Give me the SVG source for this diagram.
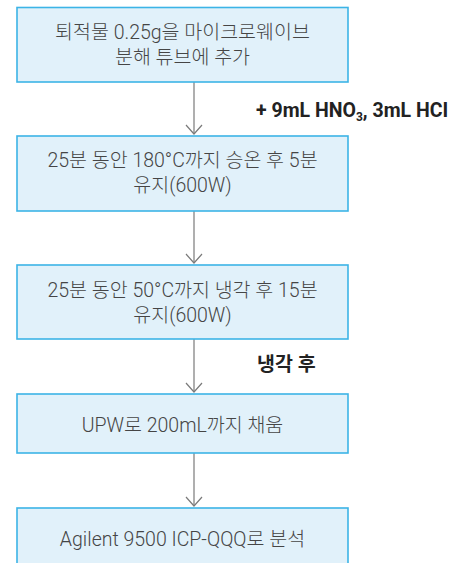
<svg xmlns="http://www.w3.org/2000/svg" width="462" height="563" viewBox="0 0 462 563">
<style>
.box{fill:#e1f1fa;stroke:#3cb4e6;stroke-width:1.6}
.t{font-family:Roboto,"Noto Sans CJK KR",sans-serif;font-size:19.5px;font-weight:300;fill:#454545;text-anchor:middle}
.lbl{font-family:Roboto,"Noto Sans CJK KR",sans-serif;font-size:19.5px;font-weight:700;fill:#222}
.c line{stroke:#7a7a7a;stroke-width:1.2}
.c path{fill:none;stroke:#7a7a7a;stroke-width:1.2}
</style>
<rect width="462" height="563" fill="#fff"/>
<g class="c" id="connectors">
<line x1="194" y1="82" x2="194" y2="134"/><path d="M186 125 L194 134 L202 125"/>
<line x1="194" y1="211" x2="194" y2="263"/><path d="M186 254 L194 263 L202 254"/>
<line x1="194" y1="339" x2="194" y2="392"/><path d="M186 383 L194 392 L202 383"/>
<line x1="194" y1="453" x2="194" y2="506"/><path d="M186 497 L194 506 L202 497"/>
<text class="lbl" x="256" y="117">+ 9mL HNO<tspan font-size="12" dy="4">3</tspan><tspan dy="-4">, 3mL HCI</tspan></text>
<text class="lbl" x="257" y="371">냉각 후</text>
</g>
<g id="n1"><rect class="box" x="17" y="7.5" width="331" height="74.5"/>
<text class="t" x="182.5" y="38.5">퇴적물 0.25g을 마이크로웨이브</text>
<text class="t" x="182.5" y="63.5">분해 튜브에 추가</text></g>
<g id="n2"><rect class="box" x="17" y="136" width="331" height="75"/>
<text class="t" x="182.5" y="167">25분 동안 180°C까지 승온 후 5분</text>
<text class="t" x="182.5" y="192">유지(600W)</text></g>
<g id="n3"><rect class="box" x="17" y="265" width="331" height="74"/>
<text class="t" x="182.5" y="297">25분 동안 50°C까지 냉각 후 15분</text>
<text class="t" x="182.5" y="322">유지(600W)</text></g>
<g id="n4"><rect class="box" x="17" y="394" width="331" height="59"/>
<text class="t" x="182.5" y="432">UPW로 200mL까지 채움</text></g>
<g id="n5"><rect class="box" x="17" y="508" width="331" height="70"/>
<text class="t" x="182.5" y="545.5">Agilent 9500 ICP-QQQ로 분석</text></g>
</svg>
